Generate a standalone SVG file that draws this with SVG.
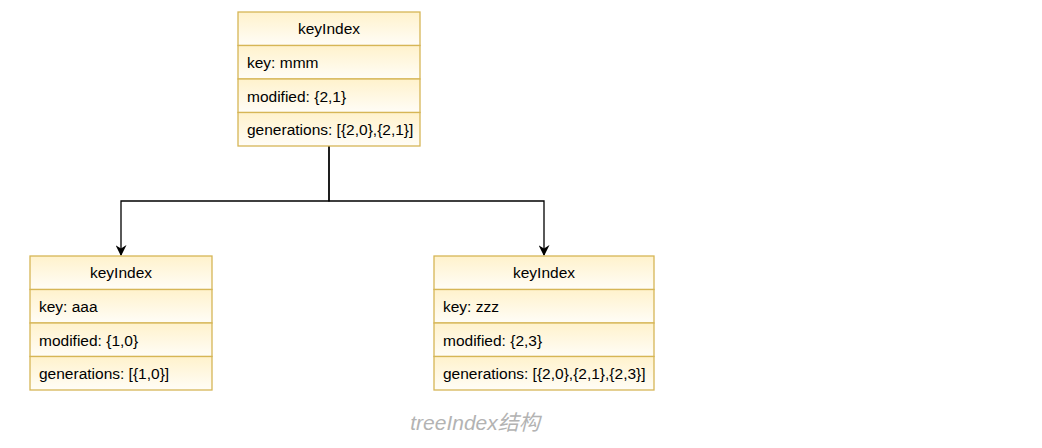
<svg xmlns="http://www.w3.org/2000/svg" width="1042" height="448" viewBox="0 0 1042 448">
<defs>
<linearGradient id="g" x1="0" y1="0" x2="0" y2="1">
<stop offset="0" stop-color="#fff2cc"/>
<stop offset="1" stop-color="#fffdf7"/>
</linearGradient>
<marker id="arr" viewBox="0 0 10 10" refX="9" refY="5" markerWidth="11" markerHeight="11" markerUnits="userSpaceOnUse" orient="auto">
<path d="M0,0 L10,5 L0,10 L3,5 Z" fill="#000"/>
</marker>
<style>
.c{fill:url(#g);stroke:#d6b656;stroke-width:1.3}
.t{font-family:"Liberation Sans",Arial,sans-serif;font-size:15.5px;fill:#000}
.h{text-anchor:middle}
.e{fill:none;stroke:#000;stroke-width:1.3}
</style>
</defs>
<rect width="1042" height="448" fill="#fff"/>
<g id="connectors">
<path class="e" d="M329,146 V201 H121 V255" marker-end="url(#arr)"/>
<path class="e" d="M329,146 V201 H544 V255" marker-end="url(#arr)"/>
</g>
<g id="top">
<rect class="c" x="238" y="12" width="182" height="33.5"/>
<rect class="c" x="238" y="45.5" width="182" height="33.5"/>
<rect class="c" x="238" y="79" width="182" height="33.5"/>
<rect class="c" x="238" y="112.5" width="182" height="33.5"/>
<text class="t h" x="329" y="34">keyIndex</text>
<text class="t" x="247" y="68">key: mmm</text>
<text class="t" x="247" y="102">modified: {2,1}</text>
<text class="t" x="247" y="135">generations: [{2,0},{2,1}]</text>
</g>
<g id="left">
<rect class="c" x="30" y="256" width="182" height="33.5"/>
<rect class="c" x="30" y="289.5" width="182" height="33.5"/>
<rect class="c" x="30" y="323" width="182" height="33.5"/>
<rect class="c" x="30" y="356.5" width="182" height="33.5"/>
<text class="t h" x="121" y="278">keyIndex</text>
<text class="t" x="39" y="312">key: aaa</text>
<text class="t" x="39" y="346">modified: {1,0}</text>
<text class="t" x="39" y="379">generations: [{1,0}]</text>
</g>
<g id="right">
<rect class="c" x="434" y="256" width="220" height="33.5"/>
<rect class="c" x="434" y="289.5" width="220" height="33.5"/>
<rect class="c" x="434" y="323" width="220" height="33.5"/>
<rect class="c" x="434" y="356.5" width="220" height="33.5"/>
<text class="t h" x="544" y="278">keyIndex</text>
<text class="t" x="443" y="312">key: zzz</text>
<text class="t" x="443" y="346">modified: {2,3}</text>
<text class="t" x="443" y="379">generations: [{2,0},{2,1},{2,3}]</text>
</g>
<text x="475" y="430" text-anchor="middle" font-family="'Liberation Sans','Noto Sans CJK SC',sans-serif" font-size="21" font-style="italic" fill="#b3b3b3">treeIndex结构</text>
</svg>
